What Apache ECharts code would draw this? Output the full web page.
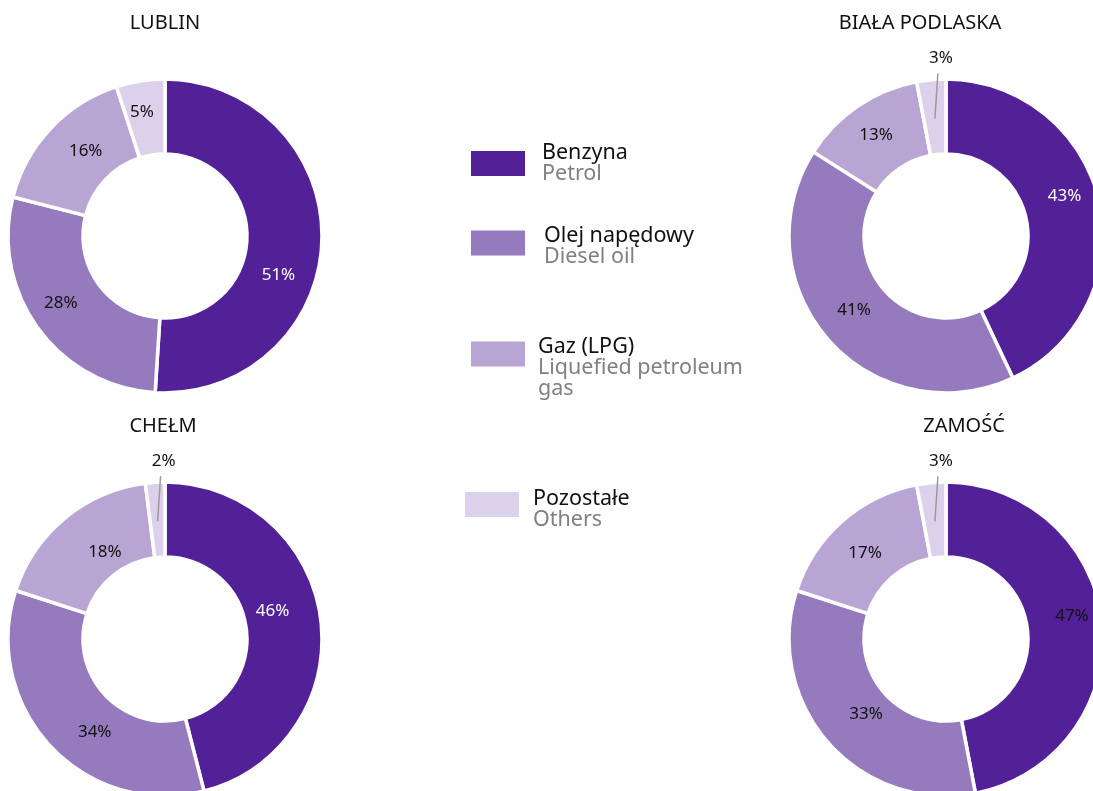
<!DOCTYPE html>
<html><head><meta charset="utf-8">
<script src="https://cdn.jsdelivr.net/npm/echarts@6/dist/echarts.min.js"></script>
<style>html,body{margin:0;padding:0;background:#fff}#c{width:1093px;height:791px}</style>
</head><body><div id="c"></div>
<script>
// ---- data ----
const categories = ['Benzyna', 'Olej napędowy', 'Gaz (LPG)', 'Pozostałe'];
const categoriesEn = ['Petrol', 'Diesel oil', 'Liquefied petroleum\ngas', 'Others'];
const regions = ['LUBLIN', 'BIAŁA PODLASKA', 'CHEŁM', 'ZAMOŚĆ'];
const lublin = [51, 28, 16, 5];
const bialaPodlaska = [43, 41, 13, 3];
const chelm = [46, 34, 18, 2];
const zamosc = [47, 33, 17, 3];
const regionValues = [lublin, bialaPodlaska, chelm, zamosc];

// ---- style / layout ----
const colors = ['#532197', '#957bbe', '#b8a5d4', '#dbd1ea'];
const FONT = '"Noto Sans", "Open Sans", sans-serif';
const panels = [
  { center: [165, 236], title: [165, 13], firstLabel: '#ffffff', nudge: [[-9, 35], [-5, -5], [10, -1], [-4, -3]] },
  { center: [946, 236], title: [920, 13], firstLabel: '#ffffff', nudge: [[-1, -13], [0, -7], [-1, 0], [0, 0]] },
  { center: [165, 639], title: [163, 416], firstLabel: '#ffffff', nudge: [[-14, -12], [19, 9], [18, 8], [0, 0]] },
  { center: [946, 639], title: [964, 416], firstLabel: '#111111', nudge: [[4, -11], [12, -6], [0, 6], [0, 0]] }
];
const SMALL = 4;
const legendPos = [
  { left: 469, top: 142, pad: [0, 0, 0, 11] },
  { left: 469, top: 224.5, pad: [6, 0, 0, 13] },
  { left: 469, top: 336, pad: [28, 0, 0, 7] },
  { left: 463, top: 488, pad: [10, 0, 0, 8] }
];

const chart = echarts.init(document.getElementById('c'), null, { renderer: 'canvas' });

const series = [];
const titles = [];
regionValues.forEach((vals, i) => {
  const p = panels[i];
  titles.push({
    text: regions[i], left: p.title[0], top: p.title[1], textAlign: 'center', padding: 0,
    textStyle: { fontFamily: FONT, fontSize: 20, fontWeight: 'normal', color: '#111111' }
  });
  series.push({
    type: 'pie', name: regions[i], center: p.center, radius: [82, 157], startAngle: 90, clockwise: true,
    avoidLabelOverlap: false, silent: true,
    itemStyle: { borderColor: '#ffffff', borderWidth: 3.5 },
    label: { show: true, position: 'inside', formatter: '{c}%', fontFamily: FONT, fontSize: 17, color: '#111111' },
    labelLine: { show: false },
    labelLayout: function (params) {
      const n = p.nudge[params.dataIndex] || [0, 0];
      return { dx: n[0], dy: n[1] };
    },
    data: vals.map((v, j) => ({
      name: categories[j], value: v, itemStyle: { color: colors[j] },
      label: { show: v >= SMALL, color: j === 0 ? p.firstLabel : '#111111' }
    }))
  });
});
regionValues.forEach((vals, i) => {
  const p = panels[i];
  series.push({
    type: 'pie', name: regions[i] + ' small', center: p.center, radius: [82, 118], startAngle: 90, clockwise: true,
    avoidLabelOverlap: false, silent: true, z: 3,
    itemStyle: { color: 'rgba(0,0,0,0)', borderWidth: 0 },
    label: { show: true, position: 'outside', formatter: '{c}%', fontFamily: FONT, fontSize: 17, color: '#111111' },
    labelLine: { show: true, length: 46, length2: 0, lineStyle: { color: '#9a9a9a', width: 1.5 } },
    labelLayout: function (params) {
      const pts = params.labelLinePoints;
      if (!pts) return {};
      const s = pts[0];
      const e = [s[0] + 3, s[1] - 45];
      return {
        x: e[0] + 3, y: e[1] - 15, align: 'center', verticalAlign: 'middle',
        labelLinePoints: [s, e, e]
      };
    },
    data: vals.map((v, j) => ({
      name: categories[j], value: v,
      label: { show: v < SMALL }, labelLine: { show: v < SMALL }
    }))
  });
});

const legends = categories.map((c, j) => ({
  data: [c], left: legendPos[j].left, top: legendPos[j].top, orient: 'vertical', padding: 0,
  icon: 'rect', itemWidth: 56, itemHeight: 27, selectedMode: false,
  formatter: (name) => '{pl|' + name + '}\n' + categoriesEn[categories.indexOf(name)].split('\n').map(s => '{en|' + s + '}').join('\n'),
  textStyle: {
    padding: legendPos[j].pad,
    rich: {
      pl: { fontFamily: FONT, fontSize: 21.5, lineHeight: 21, color: '#111111' },
      en: { fontFamily: FONT, fontSize: 21.5, lineHeight: 21, color: '#808080' }
    }
  }
}));

chart.setOption({
  backgroundColor: '#ffffff',
  animation: false,
  title: titles,
  legend: legends,
  series: series
});
</script>
</body></html>
